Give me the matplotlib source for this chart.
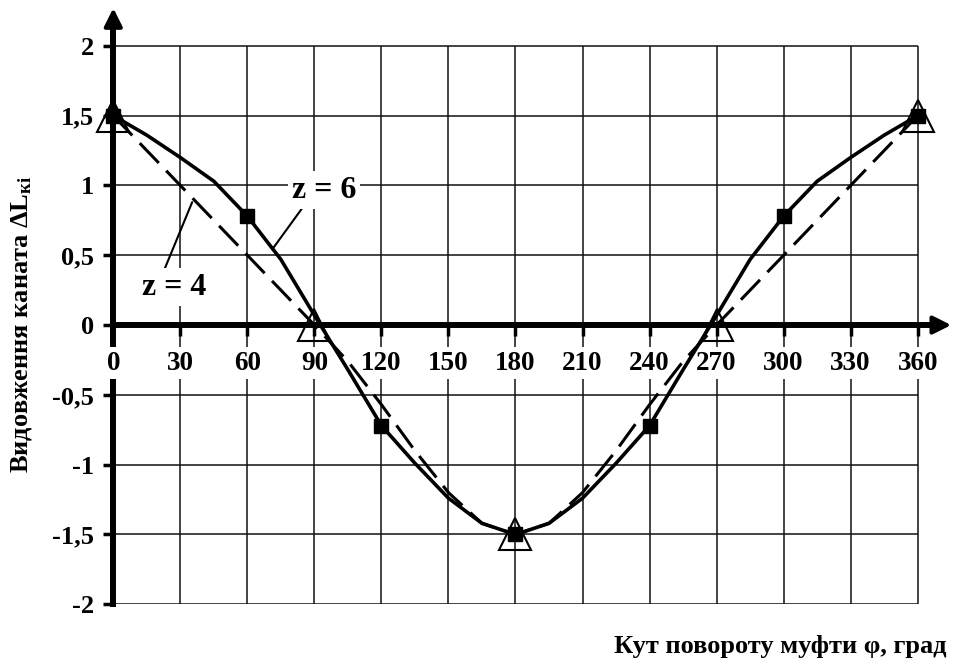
import matplotlib
matplotlib.use("Agg")
import matplotlib.pyplot as plt
import numpy as np

# ---- data ----
angles = [0, 15, 30, 45, 60, 75, 90, 105, 120, 135, 150, 165, 180,
          195, 210, 225, 240, 255, 270, 285, 300, 315, 330, 345, 360]
z6 = [1.50, 1.36, 1.20, 1.03, 0.78, 0.47, 0.07, -0.32, -0.72, -0.99, -1.24, -1.42, -1.50,
      -1.42, -1.24, -0.99, -0.72, -0.32, 0.07, 0.47, 0.78, 1.03, 1.20, 1.36, 1.50]
z4 = [1.50, 1.25, 1.00, 0.75, 0.50, 0.25, 0.00, -0.26, -0.57, -0.90, -1.20, -1.42, -1.50,
      -1.42, -1.20, -0.90, -0.57, -0.26, 0.00, 0.25, 0.50, 0.75, 1.00, 1.25, 1.50]
x_ticks = [0, 30, 60, 90, 120, 150, 180, 210, 240, 270, 300, 330, 360]
x_tick_labels = ["0", "30", "60", "90", "120", "150", "180", "210", "240", "270", "300", "330", "360"]
y_ticks = [-2, -1.5, -1, -0.5, 0, 0.5, 1, 1.5, 2]
y_tick_labels = ["-2", "-1,5", "-1", "-0,5", "0", "0,5", "1", "1,5", "2"]
label_z6 = "z = 6"
label_z4 = "z = 4"
x_title = "Кут повороту муфти φ, град"
y_title = r"Видовження каната ΔL$_{\mathrm{кі}}$"

plt.rcParams['font.family'] = ['Liberation Serif', 'DejaVu Serif']
plt.rcParams['font.weight'] = 'bold'
plt.rcParams['mathtext.fontset'] = 'custom'
plt.rcParams['mathtext.rm'] = 'Liberation Serif'
plt.rcParams['mathtext.it'] = 'Liberation Serif'
plt.rcParams['mathtext.bf'] = 'Liberation Serif:bold'

fig = plt.figure(figsize=(9.56, 6.64), dpi=100)
ax = fig.add_axes([0.1185, 0.0899, 0.8765, 0.8979])
XMAX, YMAX = 375, 2.27
ax.set_xlim(0, XMAX)
ax.set_ylim(-2, YMAX)

# grid
ax.vlines(x_ticks, y_ticks[0], y_ticks[-1], colors='#111111', lw=1.1, zorder=1)
ax.hlines(y_ticks, x_ticks[0], x_ticks[-1], colors='#111111', lw=1.1, zorder=1)

# spines
for s in ['top', 'right']:
    ax.spines[s].set_visible(False)
ax.spines['bottom'].set_position(('data', 0))
ax.spines['left'].set_position(('data', 0))
ax.spines['bottom'].set_linewidth(4.3)
ax.spines['left'].set_linewidth(4.3)
ax.spines['bottom'].set_bounds(0, XMAX - 8)
ax.spines['left'].set_bounds(-2, YMAX - 0.08)
ax.annotate('', xy=(0, YMAX), xytext=(0, YMAX - 0.2),
            arrowprops=dict(arrowstyle='-|>,head_length=0.9,head_width=0.45',
                            mutation_scale=12, color='k', lw=3, shrinkA=0, shrinkB=0),
            annotation_clip=False, zorder=3)
ax.annotate('', xy=(XMAX, 0), xytext=(XMAX - 15, 0),
            arrowprops=dict(arrowstyle='-|>,head_length=0.9,head_width=0.45',
                            mutation_scale=12, color='k', lw=3, shrinkA=0, shrinkB=0),
            annotation_clip=False, zorder=3)

# ticks
ax.set_xticks(x_ticks)
ax.set_xticklabels([])
ax.set_yticks(y_ticks, y_tick_labels)
ax.tick_params(axis='x', direction='out', length=8, width=2.5)
ax.tick_params(axis='y', direction='out', length=7, width=2.5, pad=7, labelsize=19)
for lbl in ax.get_yticklabels():
    lbl.set_fontweight('bold')
for xv, t in zip(x_ticks, x_tick_labels):
    ax.annotate(t, xy=(xv, 0), xytext=(0, -27.4), textcoords='offset points',
                ha='center', va='center', fontsize=19.5, fontweight='bold', zorder=3,
                bbox=dict(facecolor='white', edgecolor='none', pad=2.5))

# curves
ax.plot(angles, z4, color='k', lw=2.2, ls=(0, (9, 3.5)), zorder=4, clip_on=False)
ax.plot(angles, z4, ls='none', marker='^', ms=23, mfc='none', mec='k', mew=1.5,
        markevery=6, zorder=5, clip_on=False)
ax.plot(angles, z6, color='k', lw=2.6, marker='s', ms=10.5, mfc='k', mec='k',
        markevery=4, zorder=6, clip_on=False)

# labels on curves
ax.annotate('', xy=(71.5, 0.55), xytext=(84.9, 0.845),
            arrowprops=dict(arrowstyle='-', lw=1.5, color='k', shrinkA=0, shrinkB=0), zorder=6)
ax.annotate('', xy=(21.9, 0.36), xytext=(35.3, 0.88),
            arrowprops=dict(arrowstyle='-', lw=1.5, color='k', shrinkA=0, shrinkB=0), zorder=6)
ax.text(94.3, 0.967, label_z6, ha='center', va='center', fontsize=23, fontweight='bold',
        zorder=7, bbox=dict(facecolor='white', edgecolor='none', pad=3))
ax.text(27.2, 0.272, label_z4, ha='center', va='center', fontsize=23, fontweight='bold',
        zorder=7, bbox=dict(facecolor='white', edgecolor='none', pad=3))

fig.text(946 / 956, 1 - 646 / 664, x_title, ha='right', va='center', fontsize=19, fontweight='bold')
fig.text(22 / 956, 1 - 325 / 664, y_title, ha='center', va='center', rotation=90,
         fontsize=19, fontweight='bold')

fig.savefig('out.png', dpi=100)
